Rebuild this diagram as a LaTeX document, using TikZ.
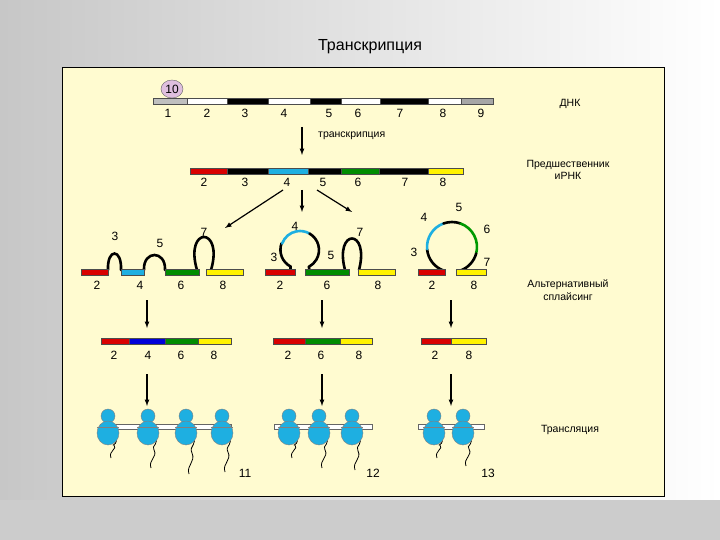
\documentclass[tikz,border=0pt]{standalone}
\usepackage{fontspec}
\setmainfont{Liberation Sans}
\usetikzlibrary{shapes.geometric}
\definecolor{cy}{RGB}{30,175,225}
\begin{document}
\begin{tikzpicture}[x=1pt,y=-1pt,
  lbl/.style={font=\fontsize{12}{13}\selectfont,inner sep=0},
  side/.style={font=\fontsize{10.5}{12.5}\selectfont,align=center,inner sep=0},
  bar/.style={draw=black!70,line width=0.4},
  loop/.style={line width=2.6,line cap=round},
  arr/.style={-latex,line width=1.2},
  rib/.style={fill=cy,draw=black!50,line width=0.4}]
\useasboundingbox (0,0) rectangle (720,540);
\shade[left color=black!22,right color=white] (0,0) rectangle (720,540);
\fill[black!20] (0,500) rectangle (720,540);
\node[font=\fontsize{16}{19}\selectfont] (title) at (370,47) {Транскрипция};
\draw[fill={rgb,255:red,255;green,251;blue,208},line width=0.8] (62,67) rectangle (664,496);
% DNA
\foreach \a/\b/\c in {153/187/black!25,187/227/white,227/268/black,268/310/white,310/341/black,341/380/white,380/428/black,428/461/white,461/493/black!35}
  \draw[bar,fill=\c] (\a,98) rectangle (\b,104);
\node[draw=black!60,fill=violet!25,ellipse,minimum width=22,minimum height=18,inner sep=0,lbl] (ten) at (172,89) {10};
\foreach \x/\t in {168/1,207/2,245/3,284/4,329/5,358/6,400/7,443/8,481/9}
  \node[lbl] at (\x,113) {\t};
\node[side] (dnk) at (570,104) {ДНК};
\coordinate (t1) at (302,127); \coordinate (t2) at (302,155);
\draw[arr] (t1) -- (t2);
\node[side,anchor=west] (tr) at (318,136) {транскрипция};
% pre-mRNA
\foreach \a/\b/\c in {190/227/red!85!black,227/268/black,268/308/cy,308/341/black,341/379/green!55!black,379/428/black,428/463/yellow}
  \draw[bar,fill=\c] (\a,168) rectangle (\b,174);
\foreach \x/\t in {204/2,245/3,287/4,323/5,358/6,405/7,443/8}
  \node[lbl] at (\x,182) {\t};
\node[side] (pre) at (568,170) {Предшественник\\иРНК};
\coordinate (s0) at (283,190); \coordinate (s1) at (225,228);
\coordinate (m0) at (302,190); \coordinate (m1) at (302,212);
\coordinate (r0) at (317,190); \coordinate (r1) at (352,212);
\draw[arr] (s0) -- (s1); \draw[arr] (m0) -- (m1); \draw[arr] (r0) -- (r1);
% splicing group 1
\draw[loop] (108,270) .. controls (107,248) and (122,248) .. (121,270);
\draw[loop] (144,270) .. controls (143,250) and (166,250) .. (165,270);
\draw[loop] (197,270) .. controls (184,226) and (224,226) .. (211,270);
\foreach \a/\b/\c in {81/108/red!85!black,121/144/cy,165/199/green!55!black,206/243/yellow}
  \draw[bar,fill=\c] (\a,269) rectangle (\b,275);
\foreach \x/\y/\t in {115/236/3,160/243/5,204/232/7,97/285/2,140/285/4,181/285/6,223/285/8}
  \node[lbl] at (\x,\y) {\t};
% group 2
\draw[loop] (290.5,271) -- (290.5,266.5) arc[start angle=118,end angle=200,radius=19];
\draw[loop,cy] (300,250) ++(200:19) arc[start angle=200,end angle=300,radius=19];
\draw[loop] (300,250) ++(300:19) arc[start angle=300,end angle=422,radius=19] -- (309.5,271);
\draw[loop] (345,270) .. controls (334,228) and (370,228) .. (359,270);
\foreach \a/\b/\c in {265/295/red!85!black,305/349/green!55!black,358/395/yellow}
  \draw[bar,fill=\c] (\a,269) rectangle (\b,275);
\foreach \x/\y/\t in {295/226/4,274/257/3,331/255/5,360/232/7,280/285/2,327/285/6,378/285/8}
  \node[lbl] at (\x,\y) {\t};
% group 3
\draw[loop] (452,247) ++(110:25) arc[start angle=110,end angle=175,radius=25];
\draw[loop,cy] (452,247) ++(175:25) arc[start angle=175,end angle=250,radius=25];
\draw[loop] (452,247) ++(250:25) arc[start angle=250,end angle=290,radius=25];
\draw[loop,green!60!black] (452,247) ++(290:25) arc[start angle=290,end angle=375,radius=25];
\draw[loop] (452,247) ++(375:25) arc[start angle=375,end angle=430,radius=25];
\foreach \a/\b/\c in {418/445/red!85!black,456/486/yellow}
  \draw[bar,fill=\c] (\a,269) rectangle (\b,275);
\foreach \x/\y/\t in {424/217/4,459/207/5,487/229/6,414/252/3,487/262/7,432/285/2,474/285/8}
  \node[lbl] at (\x,\y) {\t};
\node[side] (alt) at (568,290) {Альтернативный\\сплайсинг};
% arrows down
\foreach \x in {147,322,451}{
  \coordinate (a\x) at (\x,300); \coordinate (b\x) at (\x,328);
  \draw[arr] (a\x) -- (b\x);
  \coordinate (c\x) at (\x,374); \coordinate (d\x) at (\x,406);
  \draw[arr] (c\x) -- (d\x);}
% mRNA
\foreach \a/\b/\c in {101/129/red!85!black,129/165/blue!85!black,165/198/green!55!black,198/231/yellow,
  273/305/red!85!black,305/340/green!55!black,340/372/yellow,421/451/red!85!black,451/486/yellow}
  \draw[bar,fill=\c] (\a,338) rectangle (\b,344);
\foreach \x/\t in {114/2,148/4,181/6,214/8,288/2,321/6,359/8,435/2,469/8}
  \node[lbl] at (\x,355) {\t};
% translation
\foreach \a/\b in {100/231,274/372,418/484}
  \draw[fill=white,draw=black!60,line width=0.5] (\a,424.5) rectangle (\b,429.5);
\foreach \x/\l in {108/14,148/24,186/30,222/28,289/14,319/24,352/26,434/14,463/22}{
  \draw[line width=0.8] (\x+5,438) .. controls (\x+14,442) and (\x+2,446) .. (\x+6,438+\l*0.5)
     .. controls (\x+10,438+\l*0.8) and (\x,438+\l*0.9) .. (\x+3,438+\l+6);
  \draw[rib] (\x,416) circle[radius=7];
  \draw[rib] (\x,433) ellipse[x radius=11,y radius=12];
  \draw[draw=black!50,line width=0.4] (\x-11,427) -- (\x+11,427);}
\foreach \x/\t in {245/11,373/12,488/13}
  \node[lbl] at (\x,473) {\t};
\node[side] (trl) at (570,430) {Трансляция};
\end{tikzpicture}
\end{document}
